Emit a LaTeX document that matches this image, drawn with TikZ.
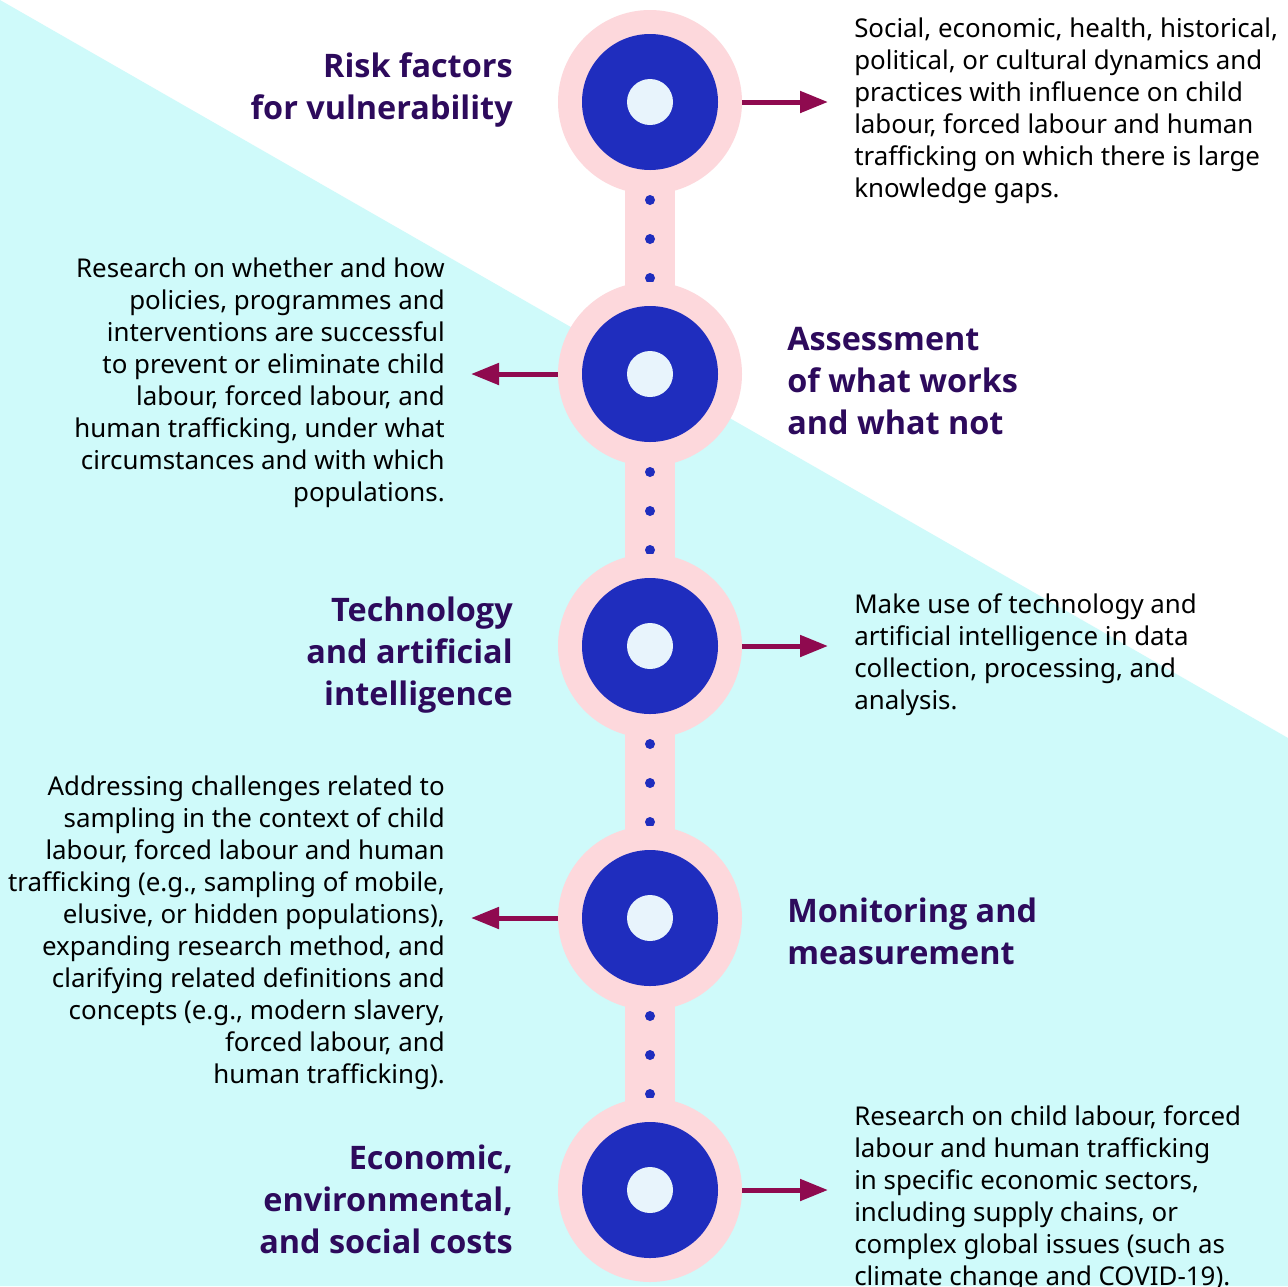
\documentclass[tikz,border=0pt]{standalone}
\usepackage{fontspec}
\setmainfont{Noto Sans}
\newfontfamily\headfont{Open Sans}
\usepackage{xcolor}
\usetikzlibrary{arrows.meta}
\usetikzlibrary{positioning}

\definecolor{bgcyan}{HTML}{CFFAFA}
\definecolor{ringpink}{HTML}{FDD8DC}
\definecolor{discblue}{HTML}{1F2DBE}
\definecolor{corepale}{HTML}{E8F4FC}
\definecolor{headpurple}{HTML}{2D0A5C}
\definecolor{pointerred}{HTML}{8F0A4F}

\tikzset{
	ring/.style={circle, fill=ringpink, inner sep=0pt, minimum size=138pt},
	disc/.style={circle, fill=discblue, inner sep=0pt, minimum size=102pt},
	core/.style={circle, fill=corepale, inner sep=0pt, minimum size=34.5pt},
	desc/.style={inner sep=0pt, font=\fontsize{19.4pt}{24pt}\selectfont},
	heading/.style={inner sep=0pt, text=headpurple, font=\headfont\fontsize{24.3pt}{31.5pt}\selectfont\bfseries},
	pointer/.style={pointerred, line width=3.75pt, -{Triangle[length=21pt, width=15.75pt]}, shorten >=19.5pt}
}

\begin{document}
\begin{tikzpicture}[x=0.75pt, y=-0.75pt]
	\useasboundingbox (0,0) rectangle (1288,1286);
	\clip (0,0) rectangle (1288,1286);
	
	% background
	\fill[white] (0,0) rectangle (1288,1286);
	\fill[bgcyan] (0,0) -- (1288,738) -- (1288,1286) -- (0,1286) -- cycle;
	
	% spine
	\foreach \i/\y in {1/102, 2/374, 3/646, 4/918, 5/1190}
		\coordinate (c\i) at (650,\y);
	\draw[ringpink, line width=37.5pt] (c1) -- (c5);
	\foreach \k in {0,...,3}
		\foreach \d in {98,137,176}
			\fill[discblue] (650,{102+272*\k+\d}) circle (3.75pt);
	
	% circles
	\foreach \i in {1,...,5} {
		\node[ring] (r\i) at (c\i) {};
		\node[disc] at (c\i) {};
		\node[core] at (c\i) {};
	}
	
	% headings
	\node[heading, anchor=east, align=right] (h1) at (513,90) {Risk factors\\for vulnerability};
	\node[heading, anchor=west, align=left] (h2) at (787,381) {Assessment\\of what works\\and what not};
	\node[heading, anchor=east, align=right] (h3) at (513,655) {Technology\\and artificial\\intelligence};
	\node[heading, anchor=west, align=left] (h4) at (787,931) {Monitoring and\\measurement};
	\node[heading, anchor=east, align=right] (h5) at (513,1199) {Economic,\\environmental,\\and social costs};
	
	% descriptions
	\node[desc, anchor=west, align=left] (d1) at (854,111) {Social, economic, health, historical,\\political, or cultural dynamics and\\practices with influence on child\\labour, forced labour and human\\trafficking on which there is large\\knowledge gaps.};
	\node[desc, anchor=east, align=right] (d2) at (445,383) {Research on whether and how\\policies, programmes and\\interventions are successful\\to prevent or eliminate child\\labour, forced labour, and\\human trafficking, under what\\circumstances and with which\\populations.};
	\node[desc, anchor=west, align=left] (d3) at (854,655) {Make use of technology and\\artificial intelligence in data\\collection, processing, and\\analysis.};
	\node[desc, anchor=east, align=right] (d4) at (445,933) {Addressing challenges related to\\sampling in the context of child\\labour, forced labour and human\\trafficking (e.g., sampling of mobile,\\elusive, or hidden populations),\\expanding research method, and\\clarifying related definitions and\\concepts (e.g., modern slavery,\\forced labour, and\\human trafficking).};
	\node[desc, anchor=west, align=left] (d5) at (854,1199) {Research on child labour, forced\\labour and human trafficking\\in specific economic sectors,\\including supply chains, or\\complex global issues (such as\\climate change and COVID-19).};
	
	% arrows
	\draw[pointer] (r1.east) -- (r1.east -| d1.west);
	\draw[pointer] (r2.west) -- (r2.west -| d2.east);
	\draw[pointer] (r3.east) -- (r3.east -| d3.west);
	\draw[pointer] (r4.west) -- (r4.west -| d4.east);
	\draw[pointer] (r5.east) -- (r5.east -| d5.west);
\end{tikzpicture}
\end{document}
